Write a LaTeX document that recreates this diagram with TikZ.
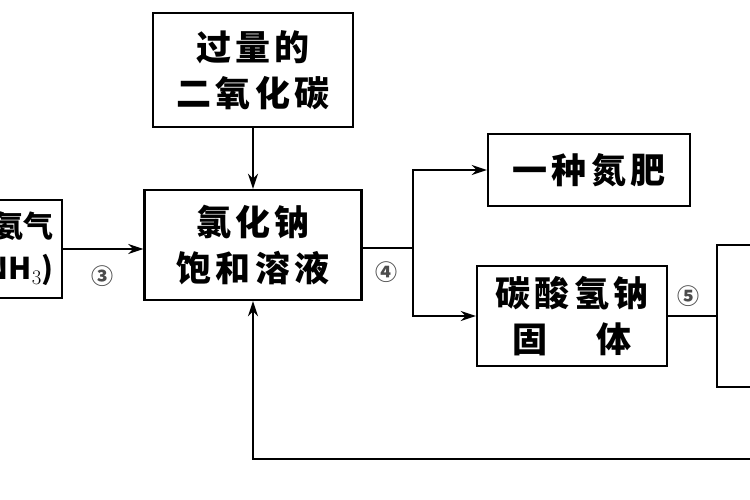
\documentclass[tikz,border=0pt]{standalone}
\usepackage{fontspec}
\setmainfont{Noto Sans CJK SC}
\newfontfamily\widecjk[LetterSpace=12]{Noto Sans CJK SC}
\usetikzlibrary{arrows.meta}
\begin{document}
\begin{tikzpicture}[x=1pt,y=-1pt,
  box/.style={draw, line width=2.4pt, inner sep=0pt, align=center, font=\widecjk\bfseries\fontsize{35}{46}\selectfont},
  ln/.style={line width=2.2pt},
  arr/.style={ln, -{Stealth[length=15pt,width=10pt]}},
  lbl/.style={font=\bfseries\fontsize{22}{22}\selectfont, text=black!70}]
\useasboundingbox (0,0) rectangle (750,500);
\clip (0,0) rectangle (750,500);
\fill[white] (0,0) rectangle (750,500);
% boxes
\node[box, minimum width=122pt, minimum height=98pt] (lb) at (1,249) {};
\node[anchor=east, align=right, inner sep=0pt, font=\bfseries\fontsize{30}{42}\selectfont] (lt) at (54,249) {通入氨气\hspace{20pt}\\(NH$_3$)};
\node[box, minimum width=200pt, minimum height=114pt] (top) at (253,70) {过量的\\二氧化碳};
\node[box, minimum width=217pt, minimum height=110pt] (nacl) at (253,245) {氯化钠\\饱和溶液};
\node[box, minimum width=202pt, minimum height=72pt] (fert) at (589,170) {一种氮肥};
\node[box, minimum width=190pt, minimum height=100pt] (soda) at (572,316) {碳酸氢钠\\固\hspace{50pt}体};
\node[box, minimum width=90pt, minimum height=142pt] (rb) at (762,316) {};
% connectors
\draw[arr] (lb.east) -- (nacl.west |- lb.east);
\node[lbl] (l3) at (102,276) {③};
\draw[arr] (top) -- (nacl);
\coordinate (j) at (413,248);
\draw[ln] (nacl.east |- j) -- (j);
\draw[arr] (j) |- (fert.west);
\draw[arr] (j) |- (soda.west);
\node[lbl] (l4) at (386,272) {④};
\draw[ln] (soda.east) -- (rb.west |- soda.east);
\node[lbl] (l5) at (688,296) {⑤};
\coordinate (rt) at (760,459);
\draw[arr] (rt) -| (nacl.south);
\end{tikzpicture}
\end{document}
